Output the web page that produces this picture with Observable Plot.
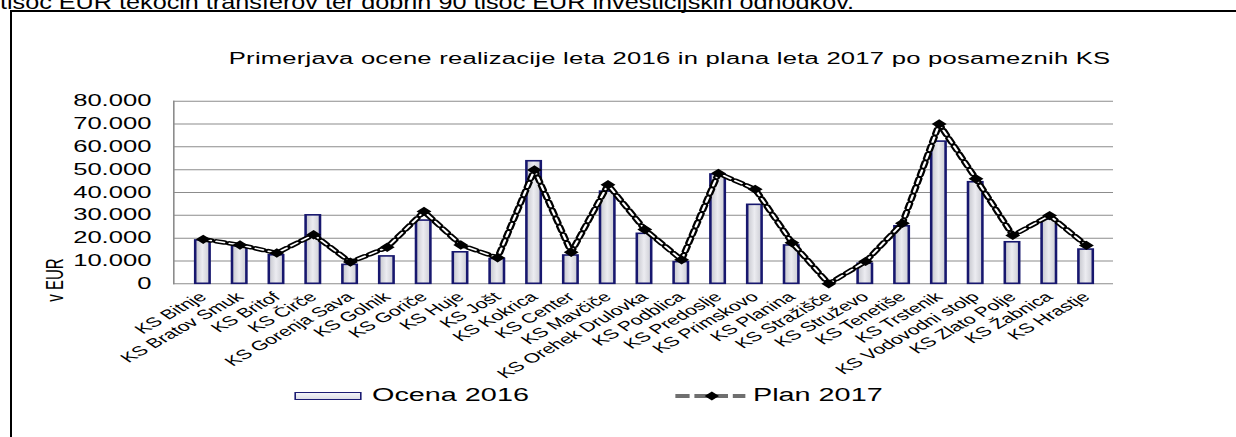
<!DOCTYPE html>
<html><head><meta charset="utf-8">
<script src="https://cdn.jsdelivr.net/npm/d3@7"></script>
<script src="https://cdn.jsdelivr.net/npm/@observablehq/plot@0.6"></script>
<style>
html,body{margin:0;padding:0;background:#fff;}
body{width:1236px;height:437px;overflow:hidden;position:relative;font-family:"Liberation Sans",Arial,sans-serif;color:#000;}
#intro{position:absolute;left:0;top:-9px;font-size:21px;line-height:21px;white-space:nowrap;transform:scaleX(1.2);transform-origin:0 0;}
#frame{position:absolute;left:10px;top:10px;width:1300px;height:520px;border:2px solid #000;box-sizing:border-box;}
#stage{position:absolute;left:0;top:0;width:772.5px;height:437px;transform:scaleX(1.6);transform-origin:0 0;}
#stage svg.chart{position:absolute;left:0;top:0;overflow:visible;}
#title{position:absolute;left:143px;top:50.5px;font-size:16px;line-height:16px;letter-spacing:0.15px;white-space:nowrap;}
#ylab{position:absolute;left:34.4px;top:280px;font-size:15px;line-height:15px;white-space:nowrap;transform:translate(-50%,-50%) rotate(-90deg);}
.legtxt{position:absolute;top:385.8px;font-size:18px;line-height:18px;white-space:nowrap;}
#sw1{position:absolute;left:184.4px;top:392px;width:42px;height:8px;box-sizing:border-box;border:1.5px solid #1b1b72;background:linear-gradient(#f4f4f8,#dcdde6);}
#stage #sw2{position:absolute;left:421.9px;top:390px;}
</style>
</head><body>
<div id="intro">tisoč EUR tekočih transferov ter dobrih 90 tisoč EUR investicijskih odhodkov.</div>
<div id="frame"></div>
<div id="stage">
  <div id="title">Primerjava ocene realizacije leta 2016 in plana leta 2017 po posameznih KS</div>
  <div id="ylab">v EUR</div>
  <div id="sw1"></div>
  <div class="legtxt" style="left:232.5px">Ocena 2016</div>
  <svg id="sw2" width="44" height="12" viewBox="0 0 44 12">
    <line x1="0" y1="6" x2="44" y2="6" stroke="#6f6f6f" stroke-width="4" stroke-dasharray="9,3"></line>
    <path d="M22.9,1.5L27.4,6L22.9,10.5L18.4,6Z" fill="#000"></path>
  </svg>
  <div class="legtxt" style="left:470.6px">Plan 2017</div>
</div>
<script>
const categories = ["KS Bitnje","KS Bratov Smuk","KS Britof","KS Čirče","KS Gorenja Sava","KS Golnik","KS Goriče","KS Huje","KS Jošt","KS Kokrica","KS Center","KS Mavčiče","KS Orehek Drulovka","KS Podblica","KS Predoslje","KS Primskovo","KS Planina","KS Stražišče","KS Struževo","KS Tenetiše","KS Trstenik","KS Vodovodni stolp","KS Zlato Polje","KS Žabnica","KS Hrastje"];
const ocena2016 = [19000,16500,12500,30000,8300,12000,27700,13800,10900,53700,12400,40400,21900,9500,47900,34600,16800,0,8800,25200,62300,44500,18200,28200,15000];
const plan2017 = [19500,17000,13500,21500,9500,16000,31700,17000,11400,49900,13800,43400,23800,10500,48400,41400,18000,0,9800,26500,70000,46000,21200,29900,16800];
const yTicks = [0,10000,20000,30000,40000,50000,60000,70000,80000];
const yTickLabels = ["0","10.000","20.000","30.000","40.000","50.000","60.000","70.000","80.000"];

const data = categories.map((c, i) => ({c, o: ocena2016[i], p: plan2017[i]}));
const K = 1.6;
const W = 1236 / K;

const defs = () => {
  const d = d3.create("svg:defs");
  const g = d.append("linearGradient").attr("id", "barGrad").attr("x1", 0).attr("x2", 1).attr("y1", 0).attr("y2", 0);
  g.append("stop").attr("offset", 0).attr("stop-color", "#c4c5cc");
  g.append("stop").attr("offset", 0.5).attr("stop-color", "#ececf1");
  g.append("stop").attr("offset", 1).attr("stop-color", "#cbccd3");
  return d.node();
};

const chart = Plot.plot({
  width: W, height: 437,
  marginLeft: 173 / K, marginRight: W - 1113 / K, marginTop: 100.7, marginBottom: 437 - 283.3,
  style: {fontFamily: "'Liberation Sans', Arial, sans-serif", color: "#000", background: "transparent", overflow: "visible"},
  x: {type: "band", domain: categories, paddingInner: 0.63, paddingOuter: 0.315},
  y: {domain: [0, 80000]},
  marks: [
    defs,
    Plot.gridY(yTicks, {stroke: "#8c8c8c", strokeOpacity: 1, strokeWidth: 1}),
    Plot.frame({anchor: "left", stroke: "#8c8c8c"}),
    Plot.barY(data, {x: "c", y: "o", fill: "url(#barGrad)", stroke: "#17176e", strokeWidth: 1.6}),
    Plot.line(data, {x: "c", y: "p", stroke: "#000", strokeWidth: 4.5, strokeDasharray: "5,3.5"}),
    Plot.line(data, {x: "c", y: "p", stroke: "#fff", strokeWidth: 1.5, strokeDasharray: "5,3.5"}),
    Plot.dot(data, {x: "c", y: "p", symbol: "diamond2", r: 4.2, fill: "#000", stroke: "none"}),
    Plot.axisY(yTicks, {tickSize: 0, tickPadding: 14, fontSize: 16, tickFormat: d => yTickLabels[yTicks.indexOf(d)], label: null}),
    Plot.axisX({tickRotate: -42, tickSize: 0, tickPadding: 11, fontSize: 13.3, label: null})
  ]
});
chart.classList.add("chart");
document.getElementById("stage").appendChild(chart);
</script>
</body></html>
